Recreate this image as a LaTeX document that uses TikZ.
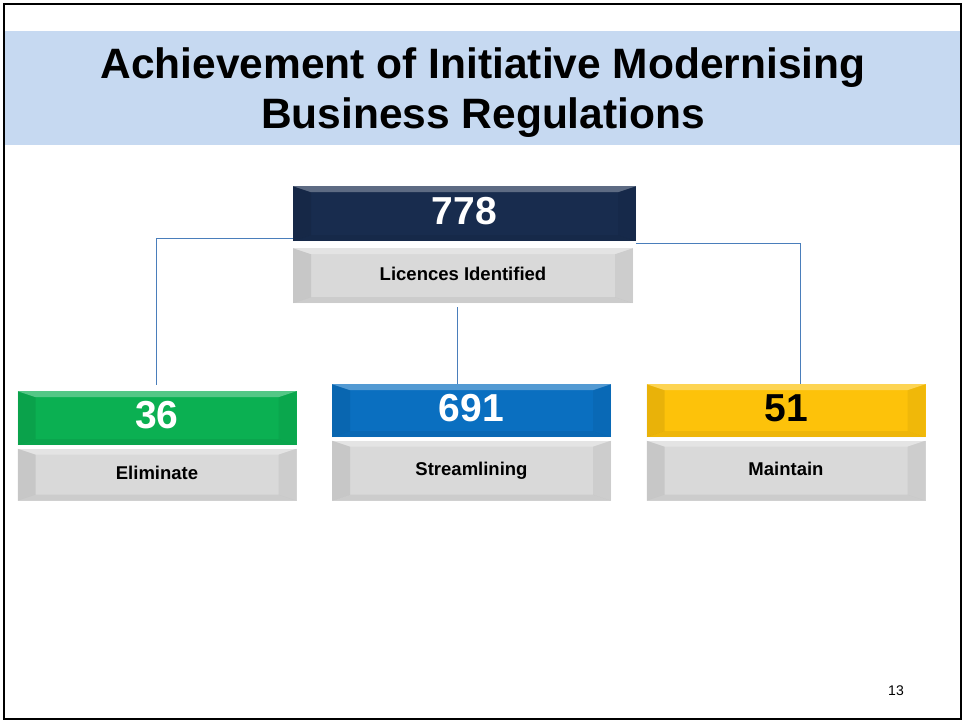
\documentclass[tikz,border=0pt]{standalone}
\usepackage{fontspec}
\setmainfont{Liberation Sans}
\usetikzlibrary{%
    calc,
    positioning
}

\definecolor{bandBlue}{HTML}{C6D9F1}
\definecolor{tileNavy}{HTML}{182C4E}
\definecolor{tileGreen}{HTML}{0BB052}
\definecolor{tileBlue}{HTML}{0A6FC0}
\definecolor{tileYellow}{HTML}{FDC20A}
\definecolor{tileGrey}{HTML}{D9D9D9}
\definecolor{linkBlue}{HTML}{4A7EBB}

\tikzset{
    bevel/.style={
        path picture={
            \fill[white,opacity=.3]
                (path picture bounding box.north west) -- (path picture bounding box.north east)
                -- ([xshift=-18pt,yshift=-6pt]path picture bounding box.north east)
                -- ([xshift=18pt,yshift=-6pt]path picture bounding box.north west) -- cycle;
            \fill[black,opacity=.08]
                (path picture bounding box.north west)
                -- ([xshift=18pt,yshift=-6pt]path picture bounding box.north west)
                -- ([xshift=18pt,yshift=6pt]path picture bounding box.south west)
                -- (path picture bounding box.south west) -- cycle;
            \fill[black,opacity=.05]
                (path picture bounding box.north east)
                -- ([xshift=-18pt,yshift=-6pt]path picture bounding box.north east)
                -- ([xshift=-18pt,yshift=6pt]path picture bounding box.south east)
                -- (path picture bounding box.south east) -- cycle;
            \fill[black,opacity=.06]
                (path picture bounding box.south west) -- (path picture bounding box.south east)
                -- ([xshift=-18pt,yshift=6pt]path picture bounding box.south east)
                -- ([xshift=18pt,yshift=6pt]path picture bounding box.south west) -- cycle;
        }
    },
    numtile/.style={rectangle, bevel, inner sep=0pt, text depth=6pt,
        font=\fontsize{39}{42}\selectfont\bfseries},
    labtile/.style={rectangle, bevel, inner sep=0pt, fill=tileGrey, text depth=3pt,
        font=\fontsize{18.5}{20}\selectfont\bfseries},
    link/.style={linkBlue, line width=.8pt}
}

\begin{document}
\begin{tikzpicture}[x=1pt, y=-1pt]
    \useasboundingbox (0,0) rectangle (965,723);
    \draw[line width=2pt] (4,4) rectangle (961,719);

    % title band
    \fill[bandBlue] (5,31) rectangle (960,145);
    \node[align=center, font=\fontsize{42.5}{50}\selectfont\bfseries]
        (title) at (483,93) {Achievement of Initiative Modernising\\Business Regulations};

    % top pair
    \node[numtile, fill=tileNavy, text=white,
          minimum width=343pt, minimum height=55pt, anchor=north
         ] (total-num) at (464.5,186) {778};
    \node[labtile, minimum width=340pt, minimum height=55pt, anchor=north
         ] (total-lab) at (463,248) {Licences Identified};

    % bottom pairs
    \foreach \Name/\X/\Top/\NumH/\Gap/\LabH/\Fill/\Ink/\Num/\Label in {%
        elim/157/391/54/3/52/tileGreen/white/36/Eliminate,
        stream/471.5/384/53/3/60/tileBlue/white/691/Streamlining,
        keep/786/384/53/3/60/tileYellow/black/51/Maintain%
        }
    {
        \node[numtile, fill=\Fill, text=\Ink,
              minimum width=279pt, minimum height=\NumH pt, anchor=north
             ] (\Name-num) at (\X,\Top) {\Num};
        \node[labtile, minimum width=279pt, minimum height=\LabH pt,
              below=\Gap pt of \Name-num
             ] (\Name-lab) {\Label};
    }

    % connectors
    \draw[link] ([yshift=3pt]total-num.south west) -| ([xshift=-1pt,yshift=6pt]elim-num.north);
    \draw[link] ([yshift=-2pt]total-num.south east) -| ([xshift=14pt]keep-num.north);
    \draw[link] ([xshift=-6pt,yshift=-4pt]total-lab.south)
        -- ([xshift=-6pt]total-lab.south |- stream-num.north);

    % page number
    \node[font=\fontsize{14}{16}\selectfont] (page) at (896,691) {13};
\end{tikzpicture}
\end{document}
